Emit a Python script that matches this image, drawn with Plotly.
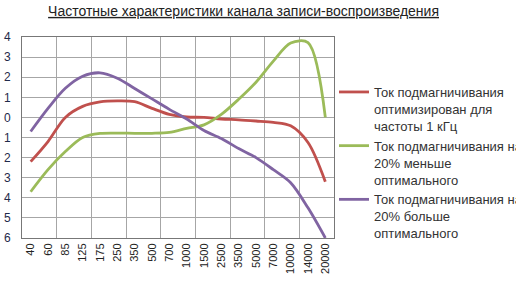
import plotly.graph_objects as go

freqs = ["40", "60", "85", "125", "175", "250", "350", "500", "700", "1000",
         "1500", "2500", "3500", "5000", "7000", "10000", "14000", "20000"]

optimal = [-2.2, -1.2, 0.0, 0.55, 0.77, 0.82, 0.78, 0.45, 0.15, 0.02,
           0.0, -0.08, -0.12, -0.18, -0.25, -0.42, -1.25, -3.2]
less20 = [-3.7, -2.6, -1.7, -1.0, -0.8, -0.78, -0.79, -0.79, -0.75, -0.55,
          -0.37, 0.15, 0.9, 1.75, 2.8, 3.7, 3.72, 0.0]
more20 = [-0.7, 0.45, 1.45, 2.05, 2.22, 1.95, 1.44, 0.92, 0.4, -0.08,
          -0.65, -1.05, -1.55, -2.0, -2.6, -3.25, -4.5, -6.0]

names = ["Ток подмагничивания<br>оптимизирован для<br>частоты 1 кГц",
         "Ток подмагничивания на<br>20% меньше<br>оптимального",
         "Ток подмагничивания на<br>20% больше<br>оптимального"]
colors = ["#C0504D", "#9BBB59", "#8064A2"]

y_ticks = [-6, -5, -4, -3, -2, -1, 0, 1, 2, 3, 4]
y_ticktext = ["6", "5", "4", "3", "2", "1", "0", "1", "2", "3", "4"]

xi = list(range(len(freqs)))

fig = go.Figure()
for series, name, color in zip([optimal, less20, more20], names, colors):
    fig.add_trace(go.Scatter(x=xi, y=series, name=name, mode="lines",
                             line=dict(color=color, width=2.8, shape="spline", smoothing=0.9)))

fig.update_layout(
    width=516, height=290,
    margin=dict(l=22, r=182, t=37, b=52, autoexpand=False),
    paper_bgcolor="white", plot_bgcolor="white",
    font=dict(family="Arial, Liberation Sans, sans-serif", color="#222"),
    title=dict(text="<u>Частотные характеристики канала записи-воспроизведения</u>",
               x=0.472, xref="container", xanchor="center",
               y=1 - 11 / 290, yref="container", yanchor="middle",
               font=dict(size=14, color="#222")),
    showlegend=True,
    legend=dict(x=334 / 516, xref="container", xanchor="left",
                y=1 - 77 / 290, yref="container", yanchor="top",
                font=dict(size=13, color="#333"), valign="top", maxheight=260,
                bgcolor="rgba(0,0,0,0)", borderwidth=0, tracegroupgap=0),
    xaxis=dict(range=[-0.5, len(freqs) - 0.5], tickmode="array", tickvals=xi, ticktext=freqs,
               tickangle=-90, tickfont=dict(size=11, color="#222"), showgrid=False,
               zeroline=False, showline=True, linecolor="#777", mirror=True, linewidth=1,
               ticks="", fixedrange=True,
               minor=dict(tickmode="array", tickvals=[i - 0.5 for i in range(0, len(freqs) + 1, 2)],
                          showgrid=True, gridcolor="#A6A6A6", gridwidth=1)),
    yaxis=dict(range=[-6, 4], tickmode="array", tickvals=y_ticks, ticktext=y_ticktext,
               tickfont=dict(size=12, color="#1F2A4A"), showgrid=True, gridcolor="#A6A6A6",
               gridwidth=1, zeroline=False, showline=True, linecolor="#777", mirror=True,
               linewidth=1, ticks="", ticklabelstandoff=8),
)

fig.write_html("out.html")
